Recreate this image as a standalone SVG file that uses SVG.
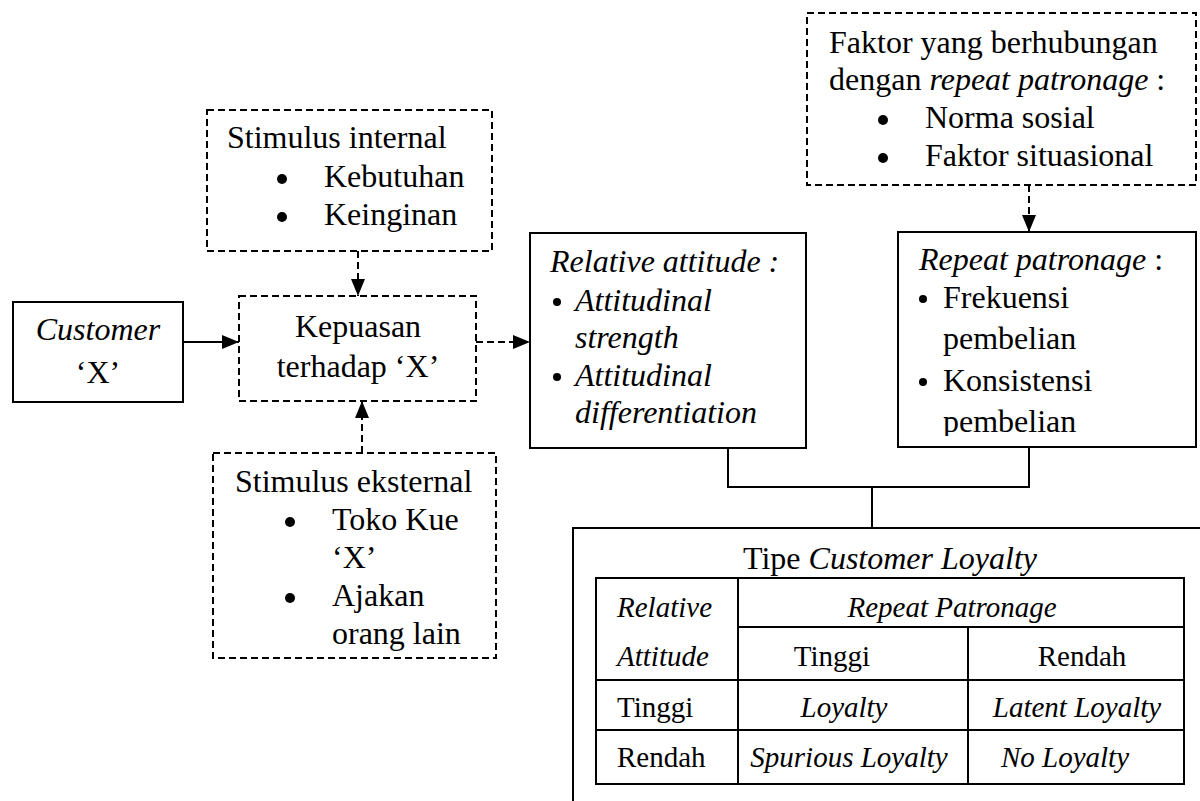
<svg xmlns="http://www.w3.org/2000/svg" width="1200" height="801" viewBox="0 0 1200 801" font-family="'Liberation Serif', 'DejaVu Serif', serif">
<style>
text{font-family:'Liberation Serif','DejaVu Serif',serif;font-size:32px;fill:#000}
.i{font-style:italic}
.t{font-size:29px}
.box{fill:#fff;stroke:#000;stroke-width:2}
.dbox{fill:#fff;stroke:#000;stroke-width:2;stroke-dasharray:7 4}
.ln{fill:none;stroke:#000;stroke-width:2}
.dl{fill:none;stroke:#000;stroke-width:2;stroke-dasharray:7 4}
.m{text-anchor:middle}
</style>
<defs>
<marker id="ah" markerUnits="userSpaceOnUse" markerWidth="17" markerHeight="14" refX="17" refY="7" orient="auto">
<path d="M0,0 L17,7 L0,14 z" fill="#000"/>
</marker>
<clipPath id="rpclip"><rect x="898" y="232" width="300" height="204"/></clipPath>
</defs>

<g id="connectors">
<line class="ln" x1="183" y1="342" x2="239" y2="342" marker-end="url(#ah)"/>
<line class="dl" x1="476" y1="342" x2="530" y2="342" marker-end="url(#ah)"/>
<line class="dl" x1="358" y1="251" x2="358" y2="296" marker-end="url(#ah)"/>
<line class="dl" x1="362" y1="453" x2="362" y2="401" marker-end="url(#ah)"/>
<line class="dl" x1="1029" y1="185" x2="1029" y2="232" marker-end="url(#ah)"/>
<polyline class="ln" points="728,448 728,487 1029,487 1029,447"/>
<line class="ln" x1="872" y1="487" x2="872" y2="528"/>
</g>

<g id="stimulus-internal">
<rect class="dbox" x="207" y="110" width="285" height="141"/>
<text x="227" y="148">Stimulus internal</text>
<circle cx="282" cy="179" r="5"/>
<text x="324" y="187">Kebutuhan</text>
<circle cx="282" cy="217" r="5"/>
<text x="324" y="225">Keinginan</text>
</g>

<g id="customer">
<rect class="box" x="13" y="302" width="170" height="100"/>
<text class="m i" x="98" y="340">Customer</text>
<text class="m" x="98" y="383">‘X’</text>
</g>

<g id="kepuasan">
<rect class="dbox" x="239" y="296" width="237" height="105"/>
<text class="m" x="358" y="337">Kepuasan</text>
<text class="m" x="358" y="377">terhadap ‘X’</text>
</g>

<g id="stimulus-eksternal">
<rect class="dbox" x="213" y="453" width="283" height="205"/>
<text x="235" y="492">Stimulus eksternal</text>
<circle cx="290" cy="522" r="5"/>
<text x="332" y="530">Toko Kue</text>
<text x="332" y="568">‘X’</text>
<circle cx="290" cy="598" r="5"/>
<text x="332" y="606">Ajakan</text>
<text x="332" y="644">orang lain</text>
</g>

<g id="relative-attitude">
<rect class="box" x="530" y="233" width="276" height="215"/>
<text class="i" x="550" y="272">Relative attitude :</text>
<circle cx="557" cy="302" r="4"/>
<text class="i" x="575" y="311">Attitudinal</text>
<text class="i" x="575" y="348">strength</text>
<circle cx="557" cy="377" r="4"/>
<text class="i" x="575" y="386">Attitudinal</text>
<text class="i" x="575" y="423">differentiation</text>
</g>

<g id="faktor">
<rect class="dbox" x="807" y="13" width="389" height="172"/>
<text x="829" y="53">Faktor yang berhubungan</text>
<text x="829" y="90">dengan <tspan class="i">repeat patronage</tspan> :</text>
<circle cx="883" cy="120" r="5"/>
<text x="925" y="128">Norma sosial</text>
<circle cx="883" cy="158" r="5"/>
<text x="925" y="166">Faktor situasional</text>
</g>

<g id="repeat-patronage">
<rect class="box" x="898" y="232" width="298" height="215"/>
<g clip-path="url(#rpclip)">
<text x="919" y="270"><tspan class="i">Repeat patronage</tspan> :</text>
<circle cx="923" cy="299" r="4"/>
<text x="943" y="308">Frekuensi</text>
<text x="943" y="349">pembelian</text>
<circle cx="923" cy="382" r="4"/>
<text x="943" y="391">Konsistensi</text>
<text x="943" y="432">pembelian</text>
</g>
</g>

<g id="customer-loyalty">
<polyline class="ln" points="573,801 573,528 1200,528"/>
<text class="m" x="890" y="569">Tipe <tspan class="i">Customer Loyalty</tspan></text>
<rect class="ln" x="596" y="578" width="588" height="206"/>
<line class="ln" x1="738" y1="627" x2="1184" y2="627"/>
<line class="ln" x1="596" y1="680" x2="1184" y2="680"/>
<line class="ln" x1="596" y1="730" x2="1184" y2="730"/>
<line class="ln" x1="738" y1="578" x2="738" y2="784"/>
<line class="ln" x1="968" y1="627" x2="968" y2="784"/>
<text class="t i" x="617" y="617">Relative</text>
<text class="t i" x="617" y="666">Attitude</text>
<text class="t i m" x="952" y="617">Repeat Patronage</text>
<text class="t m" x="832" y="666">Tinggi</text>
<text class="t m" x="1082" y="666">Rendah</text>
<text class="t" x="617" y="717">Tinggi</text>
<text class="t i m" x="844" y="717">Loyalty</text>
<text class="t i m" x="1077" y="717">Latent Loyalty</text>
<text class="t" x="617" y="767">Rendah</text>
<text class="t i m" x="849" y="767">Spurious Loyalty</text>
<text class="t i m" x="1065" y="767">No Loyalty</text>
</g>
</svg>
